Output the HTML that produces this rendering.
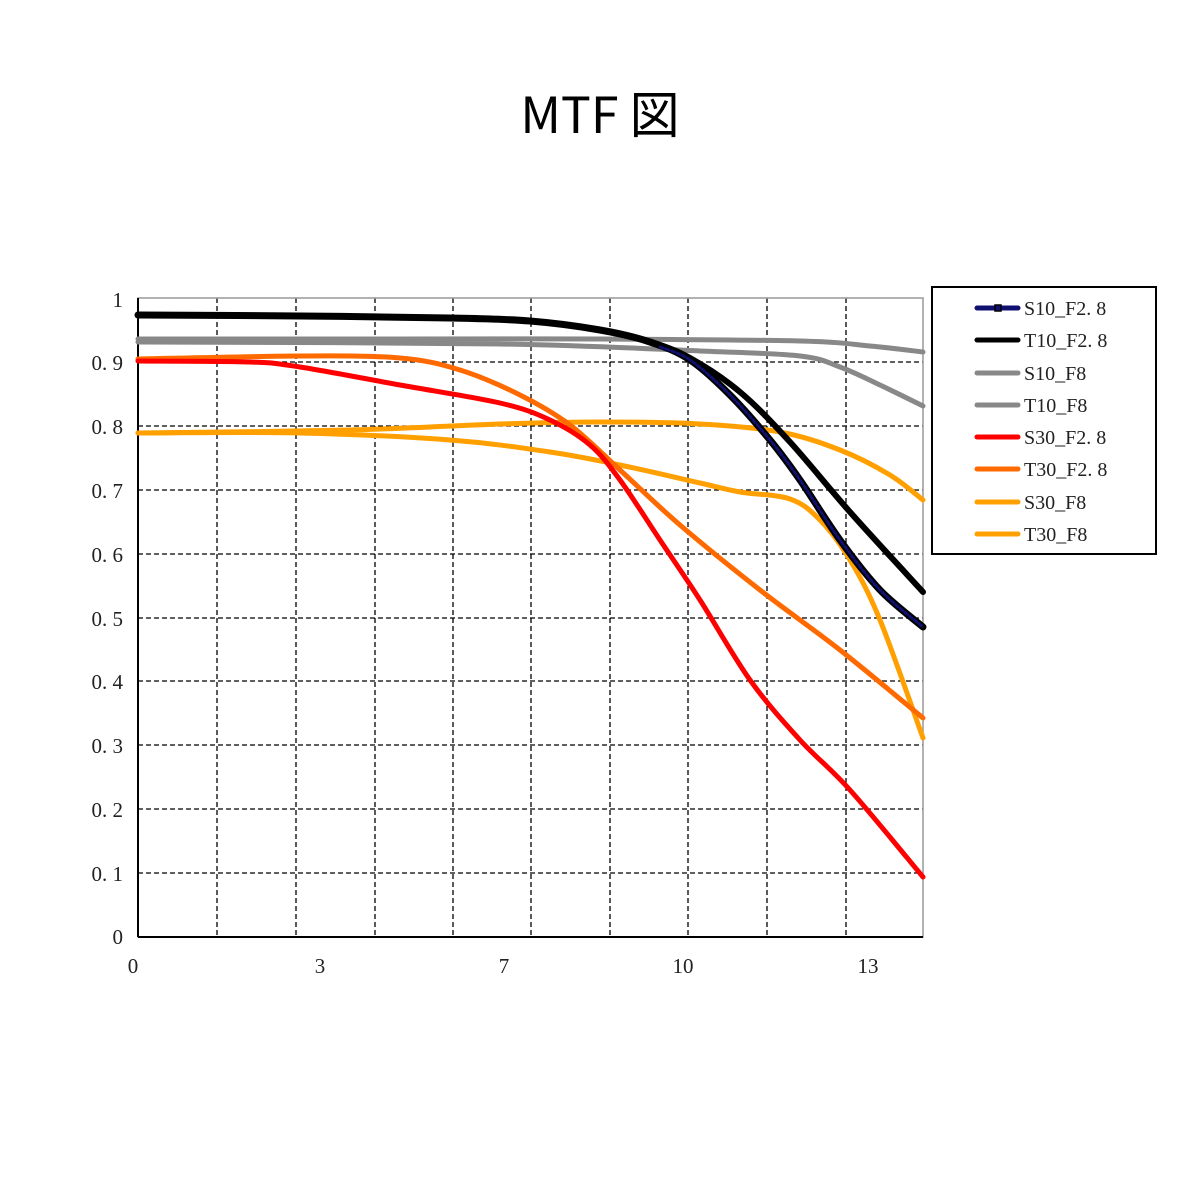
<!DOCTYPE html>
<html><head><meta charset="utf-8"><style>
body{margin:0;background:#fff}
svg{display:block}
</style></head><body>
<svg id="s" width="1200" height="1200" xmlns="http://www.w3.org/2000/svg" font-family="'Liberation Serif','Noto Serif CJK SC',serif">
<rect width="1200" height="1200" fill="#fff"/>
<text x="600" y="133" text-anchor="middle" font-family="'Noto Sans CJK JP','Liberation Sans',sans-serif" font-size="50" fill="#000">MTF 図</text>
<g stroke="#000" stroke-width="1.3" stroke-dasharray="5,3" fill="none">
<line x1="217" y1="298" x2="217" y2="937"/><line x1="296" y1="298" x2="296" y2="937"/>
<line x1="375" y1="298" x2="375" y2="937"/><line x1="453" y1="298" x2="453" y2="937"/>
<line x1="531" y1="298" x2="531" y2="937"/><line x1="610" y1="298" x2="610" y2="937"/>
<line x1="688" y1="298" x2="688" y2="937"/><line x1="767" y1="298" x2="767" y2="937"/>
<line x1="846" y1="298" x2="846" y2="937"/>
<line x1="138" y1="362" x2="923" y2="362"/><line x1="138" y1="426" x2="923" y2="426"/>
<line x1="138" y1="490" x2="923" y2="490"/><line x1="138" y1="554" x2="923" y2="554"/>
<line x1="138" y1="618" x2="923" y2="618"/><line x1="138" y1="681" x2="923" y2="681"/>
<line x1="138" y1="745" x2="923" y2="745"/><line x1="138" y1="809" x2="923" y2="809"/>
<line x1="138" y1="873" x2="923" y2="873"/>
</g>
<rect x="138" y="298" width="785" height="639" fill="none" stroke="#999" stroke-width="1.5"/>
<line x1="138" y1="298" x2="138" y2="937" stroke="#000" stroke-width="2"/>
<line x1="138" y1="937" x2="923" y2="937" stroke="#000" stroke-width="2"/>
<g font-size="21" fill="#222" text-anchor="end">
<text x="123" y="307">1</text><text x="123" y="370">0. 9</text><text x="123" y="434">0. 8</text>
<text x="123" y="498">0. 7</text><text x="123" y="562">0. 6</text><text x="123" y="626">0. 5</text>
<text x="123" y="689">0. 4</text><text x="123" y="753">0. 3</text><text x="123" y="817">0. 2</text>
<text x="123" y="881">0. 1</text><text x="123" y="944">0</text>
</g>
<g font-size="21" fill="#222" text-anchor="middle">
<text x="133" y="973">0</text><text x="320" y="973">3</text><text x="504" y="973">7</text>
<text x="683" y="973">10</text><text x="868" y="973">13</text>
</g>
<g id="curves" fill="none" stroke-width="5" stroke-linejoin="round" stroke-linecap="round">
<polyline stroke="#888" points="138,339 400,339 600,339 800,341 870,346 923,352"/>
<polyline stroke="#888" points="138,342 500,344 700,351 800,356 840,367 880,385 923,406"/>
<polyline stroke="#ffa000" points="138,433 350,430 500,424 600,422 700,424 780,432 840,450 890,475 923,500"/>
<polyline stroke="#ffa000" points="138,433 300,433 450,440 550,452 620,465 700,483 740,492 790,499 820,520 850,560 880,620 923,738"/>
<polyline stroke="#ff6a00" points="138,359 300,356 400,358 460,370 520,395 570,425 620,470 680,525 760,590 840,650 923,718"/>
<polyline stroke="#ff0000" points="138,361 250,362 300,367 400,385 500,403 550,420 590,445 620,480 660,540 700,600 750,680 800,740 850,790 923,877"/>
<polyline stroke="#000" stroke-width="6" points="138,315 300,316 450,318 530,321 600,330 650,342 690,358 740,392 790,442 850,512 923,592"/>
<polyline stroke="#000" stroke-width="7" points="138,315 300,316 450,318 530,321 600,330 650,342 690,360 730,395 770,440 800,480 840,540 880,590 923,627"/>
<polyline stroke="#101070" stroke-width="3" stroke-dasharray="3,3" points="660,347 690,360 730,395 770,440 800,480 840,540 880,590 923,627"/>
</g>
<rect x="932" y="287" width="224" height="267" fill="#fff" stroke="#000" stroke-width="2"/>
<g stroke-width="5" stroke-linecap="round">
<line x1="977" y1="308" x2="1018" y2="308" stroke="#101070"/>
<line x1="977" y1="340" x2="1018" y2="340" stroke="#000"/>
<line x1="977" y1="373" x2="1018" y2="373" stroke="#888"/>
<line x1="977" y1="405" x2="1018" y2="405" stroke="#888"/>
<line x1="977" y1="437" x2="1018" y2="437" stroke="#ff0000"/>
<line x1="977" y1="469" x2="1018" y2="469" stroke="#ff6a00"/>
<line x1="977" y1="502" x2="1018" y2="502" stroke="#ffa000"/>
<line x1="977" y1="534" x2="1018" y2="534" stroke="#ffa000"/>
</g>
<rect x="995" y="305" width="6" height="6" fill="#101070" stroke="#000" stroke-width="1.5"/>
<g font-size="20" fill="#222">
<text x="1024" y="315">S10_F2. 8</text><text x="1024" y="347">T10_F2. 8</text>
<text x="1024" y="380">S10_F8</text><text x="1024" y="412">T10_F8</text>
<text x="1024" y="444">S30_F2. 8</text><text x="1024" y="476">T30_F2. 8</text>
<text x="1024" y="509">S30_F8</text><text x="1024" y="541">T30_F8</text>
</g>
</svg>
<script>
document.querySelectorAll('#curves polyline').forEach(function(pl){
  var p=pl.getAttribute('points').trim().split(/\s+/).map(function(s){return s.split(',').map(Number);});
  var d='M'+p[0][0]+','+p[0][1];
  for(var i=0;i<p.length-1;i++){
    var p0=p[i-1]||p[i],p1=p[i],p2=p[i+1],p3=p[i+2]||p2;
    var c1x=p1[0]+(p2[0]-p0[0])/6,c1y=p1[1]+(p2[1]-p0[1])/6;
    var c2x=p2[0]-(p3[0]-p1[0])/6,c2y=p2[1]-(p3[1]-p1[1])/6;
    d+=' C'+c1x+','+c1y+' '+c2x+','+c2y+' '+p2[0]+','+p2[1];
  }
  var path=document.createElementNS('http://www.w3.org/2000/svg','path');
  ['stroke','stroke-width','stroke-dasharray'].forEach(function(a){if(pl.getAttribute(a))path.setAttribute(a,pl.getAttribute(a));});
  path.setAttribute('d',d);
  pl.parentNode.replaceChild(path,pl);
});
</script>
</body></html>
